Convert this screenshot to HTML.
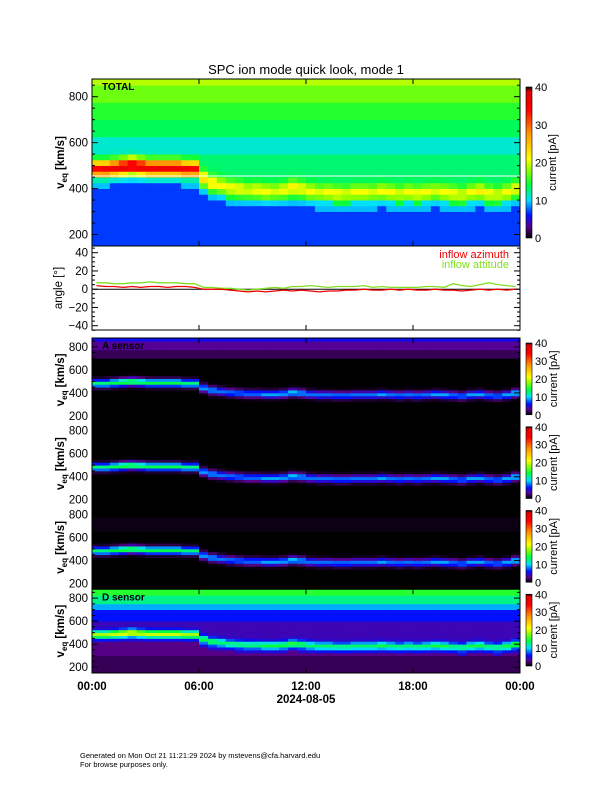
<!DOCTYPE html>
<html><head><meta charset="utf-8"><style>
body{margin:0;background:#fff;}
svg{display:block;font-family:"Liberation Sans",sans-serif;}
</style></head><body>
<svg id="chart" width="612" height="792" viewBox="0 0 612 792">
<defs>
<linearGradient id="cbar" x1="0" y1="1" x2="0" y2="0">
<stop offset="0" stop-color="#000"/><stop offset="0.075" stop-color="#5a0090"/><stop offset="0.15" stop-color="#0010ff"/><stop offset="0.25" stop-color="#00e0ff"/><stop offset="0.35" stop-color="#00ff40"/><stop offset="0.45" stop-color="#90ff00"/><stop offset="0.525" stop-color="#ffff00"/><stop offset="0.7" stop-color="#ff9000"/><stop offset="0.85" stop-color="#ff0000"/><stop offset="0.97" stop-color="#e00000"/><stop offset="1" stop-color="#000"/>
</linearGradient>
</defs>
<text x="306" y="74" font-size="13" text-anchor="middle">SPC ion mode quick look, mode 1</text>
<g id="layers"></g>
<text x="80" y="758" font-size="7.5">Generated on Mon Oct 21 11:21:29 2024 by mstevens@cfa.harvard.edu</text>
<text x="80" y="767" font-size="7.5">For browse purposes only.</text>
</svg>
<script>
// ---- data ----
const timeHours = [0,0.5,1,1.5,2,2.5,3,3.5,4,4.5,5,5.5,6,6.5,7,7.5,8,8.5,9,9.5,10,10.5,11,11.5,12,12.5,13,13.5,14,14.5,15,15.5,16,16.5,17,17.5,18,18.5,19,19.5,20,20.5,21,21.5,22,22.5,23,23.5];
const bulkSpeed = [480,480,485,490,495,490,485,485,485,485,480,480,440,420,410,400,395,390,390,385,385,390,400,395,385,380,380,375,375,380,380,380,385,380,375,380,375,380,385,380,375,370,380,385,375,370,380,395];
const peakTotal = [34,35,36,37,37,37,36,36,36,36,35,34,22,21,20,20,20,19,20,20,19,20,21,20,20,19,20,20,19,20,20,19,20,20,19,20,20,20,19,20,20,19,20,21,20,19,20,20];
const peakSensor = [13,13,14,15,15,14,14,14,14,14,13,13,9,9,8,8,8,8,8,9,9,9,10,9,8,8,8,8,8,8,8,8,9,8,8,8,8,8,9,9,8,8,9,9,8,8,9,10];
const azimuth = [4,3,3,2,3,2,3,3,2,3,3,2,0,0,0,-1,-2,-3,-2,-3,-2,-1,-2,-1,-2,-3,-2,-2,-1,-1,0,-1,-1,0,-1,0,-1,-1,0,-1,-1,-2,-1,0,-1,0,-1,0];
const attitude = [7,7,6,6,7,7,8,7,7,7,6,6,2,2,1,1,0,-1,0,1,2,1,3,3,4,3,2,3,3,3,4,2,3,2,2,2,2,3,3,2,6,4,3,5,7,5,4,3];
const velTicks = [200,400,600,800];
const angleTicks = [40,20,0,-20,-40];
const timeTicks = ["00:00","06:00","12:00","18:00","00:00"];
const cbTicks = [0,10,20,30,40];
// ---- geometry ----
const X0=92,X1=520,VMIN=150,VMAX=877;
const NS="http://www.w3.org/2000/svg";
const root=document.getElementById('layers');
function xT(t){return X0+t/24*(X1-X0);}
function mk(tag,attrs,parent){const e=document.createElementNS(NS,tag);for(const k in attrs)e.setAttribute(k,attrs[k]);(parent||root).appendChild(e);return e;}
const cstops=[[0,[0,0,0]],[3,[90,0,144]],[6,[0,16,255]],[10,[0,224,255]],[14,[0,255,64]],[18,[144,255,0]],[21,[255,255,0]],[28,[255,144,0]],[34,[255,0,0]],[40,[224,0,0]]];
function col(v){v=Math.max(0,Math.min(40,v));for(let i=1;i<cstops.length;i++){if(v<=cstops[i][0]){const a=cstops[i-1],b=cstops[i];const f=(v-a[0])/(b[0]-a[0]);const c=a[1].map((x,j)=>Math.round(x+(b[1][j]-x)*f));return `rgb(${c})`;}}return 'rgb(224,0,0)';}
function totalVal(v,i){const vb=bulkSpeed[i];let bg;
 if(v>=850)bg=19;else if(v>=780)bg=17;else if(v>=700)bg=15;else if(v>=620)bg=13.5;else if(v>=540)bg=11;else bg=13;
 if(v<vb-40)bg=6.8+(v>vb-70?2.5:0);
 const p=peakTotal[i]-12;return bg+Math.max(0,p)*Math.exp(-Math.pow((v-vb-5)/32,2));}
function sensorVal(v,i,k){const vb=bulkSpeed[i];let bg=0;
 if(k===0){if(v>845)bg=5.5;else if(v>770)bg=3.2;else if(v>690)bg=1.8;}
 if(k===2&&v>650&&v<780)bg=0.4;
 if(k===3){if(v>830)bg=15;else if(v>760)bg=12.5;else if(v>690)bg=9;else if(v>600)bg=6;else if(v>vb+35)bg=4;else if(v>vb-60)bg=4.5;else if(v>300)bg=2.8;else bg=1.8;}
 return bg+peakSensor[i]*(k===3?1.1:1)*Math.exp(-Math.pow((v-vb-5)/32,2));}
function spectro(name,y0,y1,fn,label){
 const g=mk('g',{});
 const dv=25,w=(X1-X0)/timeHours.length;
 const yV=v=>y1-(v-VMIN)/(VMAX-VMIN)*(y1-y0);
 for(let i=0;i<timeHours.length;i++){for(let v=VMIN;v<VMAX;v+=dv){const vt=Math.min(v+dv,VMAX);
  const r=mk('rect',{x:xT(timeHours[i]).toFixed(2),y:yV(vt).toFixed(2),width:(w+0.4).toFixed(2),height:(yV(v)-yV(vt)+0.4).toFixed(2),fill:col(fn(v+dv/2,i))},g);
  }}
 mk('rect',{x:X0,y:y0,width:X1-X0,height:y1-y0,fill:'none',stroke:'#000','stroke-width':1},g);
 for(let v=200;v<VMAX;v+=50){const y=yV(v),L=(v%200===0)?6:3;mk('line',{x1:X0,x2:X0+L,y1:y,y2:y,stroke:'#000'},g);mk('line',{x1:X1,x2:X1-L,y1:y,y2:y,stroke:'#000'},g);}
 velTicks.forEach(v=>{const t=mk('text',{x:X0-4,y:yV(v)+4,'font-size':11.5,'text-anchor':'end'},g);t.textContent=v;});
 timeTicks.forEach((s,j)=>{const x=xT(j*6);mk('line',{x1:x,x2:x,y1:y1,y2:y1-5,stroke:'#000'},g);mk('line',{x1:x,x2:x,y1:y0,y2:y0+5,stroke:'#000'},g);});
 const yl=mk('text',{transform:`translate(64,${(y0+y1)/2}) rotate(-90)`,'font-size':11.5,'text-anchor':'middle','font-weight':'bold'},g);
 yl.innerHTML='v<tspan font-size="8" dy="3">eq</tspan><tspan dy="-3"> [km/s]</tspan>';
 if(label){const t=mk('text',{x:X0+10,y:y0+11,'font-size':10,'font-weight':'bold'},g);t.textContent=label;}
 const cy0=y0+(y1-y0>120?8:5),cy1=y1-(y1-y0>120?8:7);
 mk('rect',{x:526,y:cy0,width:6,height:cy1-cy0,fill:'url(#cbar)',stroke:'#000','stroke-width':0.6},g);
 cbTicks.forEach(c=>{const y=cy1-c/40*(cy1-cy0);const t=mk('text',{x:535,y:y+4,'font-size':11},g);t.textContent=c;});
 const ct=mk('text',{transform:`translate(${y1-y0>120?556:557},${(cy0+cy1)/2}) rotate(-90)`,'font-size':11,'text-anchor':'middle'},g);ct.textContent='current [pA]';
 return yV;}
const yTop=spectro('total-spectrogram',79,246,totalVal,'TOTAL');
mk('line',{x1:X0,x2:X1,y1:yTop(455),y2:yTop(455),stroke:'#fff','stroke-width':1});
// angle panel
(function(){const y0=246,y1=330;const g=mk('g',{});
 const yA=a=>289.2-a*(73/80);
 mk('rect',{x:X0,y:y0,width:X1-X0,height:y1-y0,fill:'#fff',stroke:'#000'},g);
 mk('line',{x1:X0,x2:X1,y1:yA(0),y2:yA(0),stroke:'#000'},g);
 for(let a=-45;a<=45;a+=5){const L=(a%20===0)?6:3;mk('line',{x1:X0,x2:X0+L,y1:yA(a),y2:yA(a),stroke:'#000'},g);mk('line',{x1:X1,x2:X1-L,y1:yA(a),y2:yA(a),stroke:'#000'},g);}
 angleTicks.forEach(a=>{const t=mk('text',{x:X0-4,y:yA(a)+4,'font-size':11.5,'text-anchor':'end'},g);t.textContent=(a<0?'\u2212'+(-a):a);});
 for(let j=0;j<=4;j++){const x=xT(j*6);mk('line',{x1:x,x2:x,y1:y1,y2:y1-5,stroke:'#000'},g);}
 function line(arr,c,n){const p=mk('polyline',{points:arr.map((a,i)=>xT(timeHours[i]+0.25).toFixed(1)+','+yA(a).toFixed(1)).join(' '),fill:'none',stroke:c,'stroke-width':1.3},g);}
 line(attitude,'#80e020','attitude-line');line(azimuth,'#f00000','azimuth-line');
 const t1=mk('text',{x:509,y:258,'font-size':11,'text-anchor':'end',fill:'#f00000'},g);t1.textContent='inflow azimuth';
 const t2=mk('text',{x:509,y:268,'font-size':11,'text-anchor':'end',fill:'#80e020'},g);t2.textContent='inflow attitude';
 const yl=mk('text',{transform:`translate(62,${(y0+y1)/2}) rotate(-90)`,'font-size':11.5,'text-anchor':'middle'},g);yl.textContent='angle [°]';
})();
const pTops=[338,421.75,505.5,589.25,673];
const names=['a-sensor-spectrogram','b-sensor-spectrogram','c-sensor-spectrogram','d-sensor-spectrogram'];
const labels=['A sensor','','','D sensor'];
for(let k=0;k<4;k++){spectro(names[k],pTops[k],pTops[k+1],(v,i)=>sensorVal(v,i,k),labels[k]);}
// time labels
timeTicks.forEach((s,j)=>{const t=mk('text',{x:xT(j*6),y:690,'font-size':11.5,'text-anchor':'middle','font-weight':'bold'});t.textContent=s;});
const dl=mk('text',{x:306,y:703,'font-size':11.5,'text-anchor':'middle','font-weight':'bold'});dl.textContent='2024-08-05';
</script>
</body></html>
